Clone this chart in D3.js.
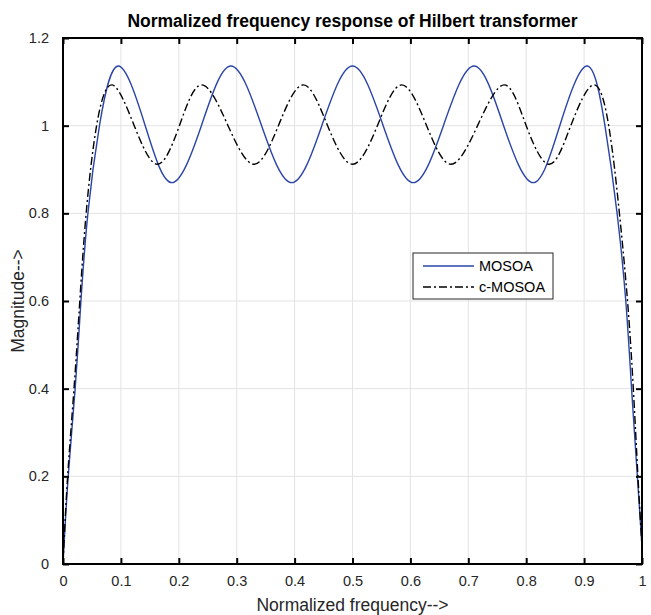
<!DOCTYPE html>
<html>
<head>
<meta charset="utf-8">
<script src="https://d3js.org/d3.v7.min.js"></script>
<style>
  body { margin: 0; background: #fff; }
  text { font-family: "Liberation Sans", Arial, sans-serif; }
</style>
</head>
<body>
<svg id="chart" width="651" height="615"></svg>
<script>
// values
var mosoaX = [0, 0.009, 0.021, 0.031, 0.043, 0.063, 0.0955, 0.142, 0.188, 0.239, 0.29, 0.343, 0.395, 0.447, 0.5, 0.553, 0.605, 0.657, 0.71, 0.761, 0.812, 0.858, 0.905, 0.936, 0.957, 0.972, 0.982, 0.992, 1]
var mosoaY = [0, 0.2, 0.4, 0.6, 0.8, 1.0, 1.136, 1.0, 0.870, 1.0, 1.136, 1.0, 0.870, 1.0, 1.136, 1.0, 0.870, 1.0, 1.136, 1.0, 0.870, 1.0, 1.136, 1.0, 0.8, 0.6, 0.4, 0.2, 0.04]

var cmosoaX = [0, 0.008, 0.019, 0.029, 0.040, 0.058, 0.085, 0.123, 0.163, 0.201, 0.2395, 0.285, 0.33, 0.372, 0.415, 0.457, 0.5, 0.543, 0.585, 0.628, 0.67, 0.716, 0.762, 0.80, 0.84, 0.877, 0.916, 0.9425, 0.961, 0.975, 0.985, 0.993, 1]
var cmosoaY = [0, 0.2, 0.4, 0.6, 0.8, 1.0, 1.093, 1.0, 0.912, 1.0, 1.093, 1.0, 0.912, 1.0, 1.093, 1.0, 0.912, 1.0, 1.093, 1.0, 0.912, 1.0, 1.093, 1.0, 0.912, 1.0, 1.093, 1.0, 0.8, 0.6, 0.4, 0.2, 0.04]

var xTicks = [0, 0.1, 0.2, 0.3, 0.4, 0.5, 0.6, 0.7, 0.8, 0.9, 1]
var yTicks = [0, 0.2, 0.4, 0.6, 0.8, 1, 1.2]
var seriesNames = ["MOSOA", "c-MOSOA"]

// plot box (window.top is reserved, so own names)
var pL = 63, pR = 642, pT = 38, pB = 564

var svg = d3.select("#chart")
var x = d3.scaleLinear().domain([0, 1]).range([pL, pR])
var y = d3.scaleLinear().domain([0, 1.2]).range([pB, pT])

// grid
svg.append("g").selectAll("line").data(xTicks).enter().append("line")
  .attr("x1", d => x(d)).attr("x2", d => x(d)).attr("y1", pT).attr("y2", pB)
  .attr("stroke", "#e3e3e3").attr("stroke-width", 1)
svg.append("g").selectAll("line").data(yTicks).enter().append("line")
  .attr("y1", d => y(d)).attr("y2", d => y(d)).attr("x1", pL).attr("x2", pR)
  .attr("stroke", "#e3e3e3").attr("stroke-width", 1)

// curves
var line = d3.line().x(d => x(d[0])).y(d => y(d[1])).curve(d3.curveNatural)
var blueData = mosoaX.map((v, i) => [v, mosoaY[i]])
var blackData = cmosoaX.map((v, i) => [v, cmosoaY[i]])

svg.append("path").datum(blueData).attr("d", line)
  .attr("fill", "none").attr("stroke", "#2b44a8").attr("stroke-width", 1.4)
svg.append("path").datum(blackData).attr("d", line)
  .attr("fill", "none").attr("stroke", "#000").attr("stroke-width", 1.4)
  .attr("stroke-dasharray", "8,3,2,3")

// axes, ticks inside
var ax = function(g, axis) {
  g.call(axis)
  g.select(".domain").remove()
  g.selectAll(".tick line").attr("stroke", "#000").attr("stroke-width", 2)
  g.selectAll(".tick text").style("font-size", "14.5px").attr("fill", "#262626")
}
svg.append("g").attr("transform", `translate(0,${pB})`)
  .call(g => ax(g, d3.axisBottom(x).tickValues(xTicks).tickSizeInner(-6).tickPadding(12).tickFormat(d3.format("~g"))))
svg.append("g").attr("transform", `translate(0,${pT})`)
  .call(g => ax(g, d3.axisTop(x).tickValues(xTicks).tickSizeInner(-6).tickFormat("")))
svg.append("g").attr("transform", `translate(${pL},0)`)
  .call(g => ax(g, d3.axisLeft(y).tickValues(yTicks).tickSizeInner(-6).tickPadding(14).tickFormat(d3.format("~g"))))
svg.append("g").attr("transform", `translate(${pR},0)`)
  .call(g => ax(g, d3.axisRight(y).tickValues(yTicks).tickSizeInner(-6).tickFormat("")))

svg.append("rect").attr("x", pL).attr("y", pT).attr("width", pR - pL).attr("height", pB - pT)
  .attr("fill", "none").attr("stroke", "#000").attr("stroke-width", 2)

// title and labels
svg.append("text").text("Normalized frequency response of Hilbert transformer")
  .attr("x", (pL + pR) / 2).attr("y", 27).attr("text-anchor", "middle")
  .style("font-size", "17.5px").style("font-weight", "bold")
svg.append("text").text("Normalized frequency-->")
  .attr("x", (pL + pR) / 2).attr("y", 611).attr("text-anchor", "middle")
  .style("font-size", "17.5px").attr("fill", "#262626")
svg.append("text").text("Magnitude-->")
  .attr("transform", `translate(24,${(pT + pB) / 2}) rotate(-90)`).attr("text-anchor", "middle")
  .style("font-size", "17.5px").attr("fill", "#262626")

// legend
var lg = svg.append("g")
lg.append("rect").attr("x", 413).attr("y", 253).attr("width", 140).attr("height", 46)
  .attr("fill", "#fff").attr("stroke", "#262626").attr("stroke-width", 1)
var styles = [{c: "#2b44a8", d: null}, {c: "#000", d: "8,3,2,3"}]
seriesNames.forEach(function(n, i) {
  var yy = 266 + i * 21
  lg.append("line").attr("x1", 423).attr("x2", 474).attr("y1", yy).attr("y2", yy)
    .attr("stroke", styles[i].c).attr("stroke-width", 1.4).attr("stroke-dasharray", styles[i].d)
  lg.append("text").text(n).attr("x", 479).attr("y", yy + 5).style("font-size", "14.5px").attr("fill", "#000")
})
</script>
</body>
</html>
